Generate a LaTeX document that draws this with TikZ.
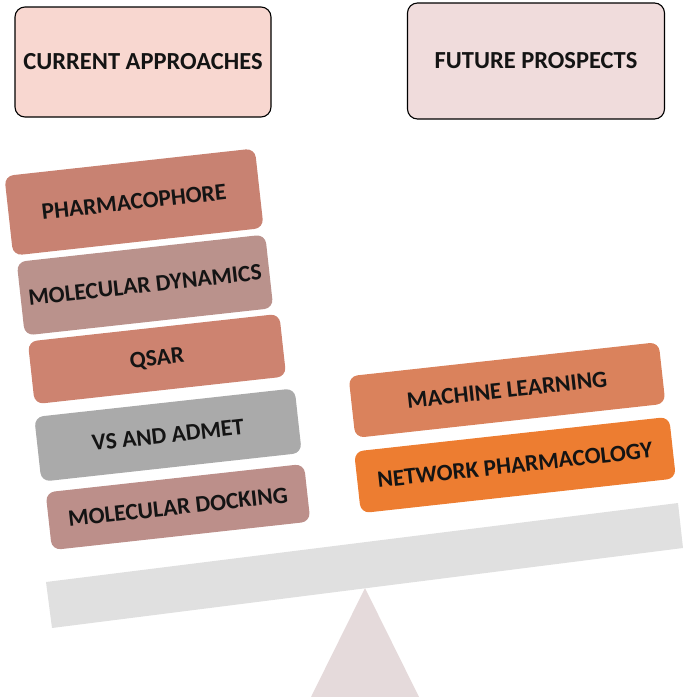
\documentclass[tikz,border=0pt]{standalone}
\usepackage{fontspec}
\setmainfont{Carlito}
\definecolor{topl}{RGB}{248,215,208}
\definecolor{topr}{RGB}{240,220,220}
\definecolor{cpharm}{RGB}{200,130,114}
\definecolor{cmd}{RGB}{186,146,140}
\definecolor{cqsar}{RGB}{205,131,112}
\definecolor{cvs}{RGB}{170,170,170}
\definecolor{cdock}{RGB}{188,143,138}
\definecolor{cml}{RGB}{218,130,92}
\definecolor{cnp}{RGB}{237,125,49}
\definecolor{cbeam}{RGB}{224,224,224}
\definecolor{ctri}{RGB}{229,218,219}
\definecolor{ink}{RGB}{20,20,20}
\begin{document}
\begin{tikzpicture}[x=1pt,y=-1pt,
  topbox/.style={draw=black, line width=1.1pt, rounded corners=10pt,
    minimum width=256pt, minimum height=110pt, inner sep=0pt,
    font=\bfseries\fontsize{24.5}{28}\selectfont, text=ink},
  stackbox/.style={rounded corners=9pt, rotate=6.3, inner sep=0pt,
    font=\bfseries\fontsize{23.5}{27}\selectfont, text=ink},
]
\useasboundingbox (0,0) rectangle (685,697);
% balance
\fill[ctri] (365,588) -- (311,697) -- (419,697) -- cycle;
\fill[cbeam] (46,582) -- (678,503) -- (683,548) -- (52,628) -- cycle;
% headers
\node[topbox, fill=topl] (ca) at (143,62) {CURRENT APPROACHES};
\node[topbox, fill=topr, minimum width=257pt, minimum height=116pt] (fp) at (536,61) {FUTURE PROSPECTS};
% current approaches stack
\node[stackbox, fill=cpharm, minimum width=252pt, minimum height=80pt] (pharm) at (134,202) {PHARMACOPHORE};
\node[stackbox, fill=cmd, minimum width=250pt, minimum height=74pt] (md) at (145,285) {MOLECULAR DYNAMICS};
\node[stackbox, fill=cqsar, minimum width=253pt, minimum height=63pt] (qsar) at (157,359) {QSAR};
\node[stackbox, fill=cvs, minimum width=262pt, minimum height=65pt] (vs) at (168,435) {VS AND ADMET};
\node[stackbox, fill=cdock, minimum width=260pt, minimum height=58pt] (dock) at (178,507) {MOLECULAR DOCKING};
% future prospects stack
\node[stackbox, fill=cml, minimum width=312pt, minimum height=62pt] (ml) at (507,390) {MACHINE LEARNING};
\node[stackbox, fill=cnp, minimum width=317pt, minimum height=62pt] (np) at (515,465) {NETWORK PHARMACOLOGY};
\end{tikzpicture}
\end{document}
